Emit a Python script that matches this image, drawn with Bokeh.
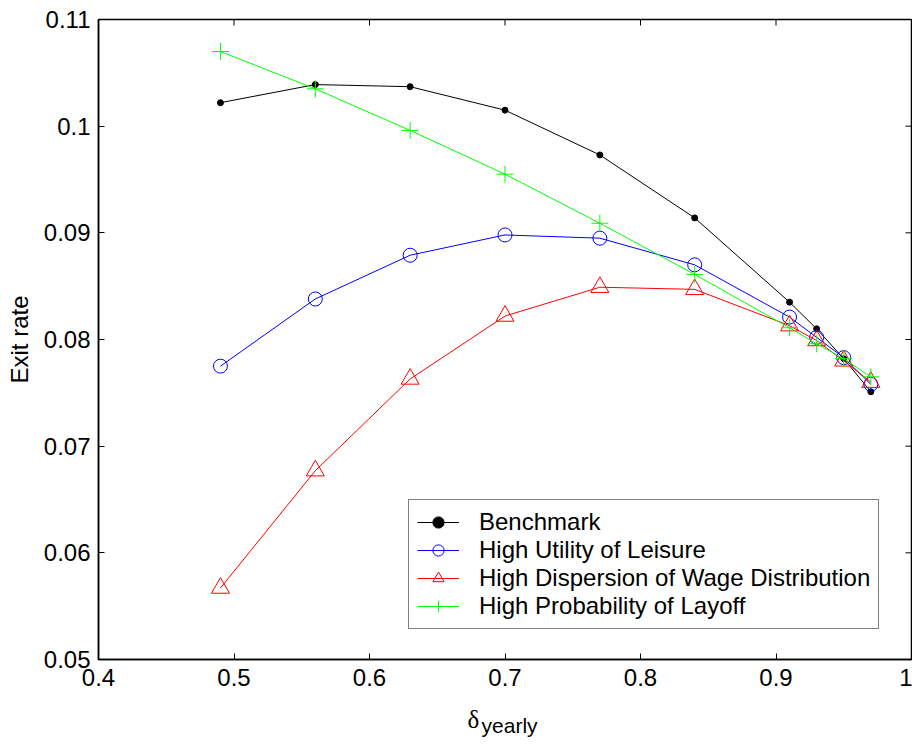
import math
from bokeh.plotting import figure
from bokeh.layouts import column
from bokeh.models import Range1d, FixedTicker, Legend, LegendItem
from bokeh.core.properties import value
from bokeh.embed import file_html
from bokeh.resources import INLINE

# ---- data ----
delta = [0.49, 0.56, 0.63, 0.70, 0.77, 0.84, 0.91, 0.93, 0.95, 0.97]
benchmark = [0.1022, 0.1039, 0.1037, 0.1015, 0.0973, 0.0914, 0.0835, 0.0810, 0.0782, 0.0751]
high_leisure = [0.0775, 0.0838, 0.0879, 0.0898, 0.0895, 0.0870, 0.0821, 0.0802, 0.0783, 0.0758]
high_dispersion = [0.0567, 0.0677, 0.0763, 0.0822, 0.0849, 0.0847, 0.0813, 0.0799, 0.0780, 0.0760]
high_layoff = [0.1070, 0.1035, 0.0996, 0.0955, 0.0909, 0.0861, 0.0811, 0.0796, 0.0782, 0.0765]

series_names = ["Benchmark", "High Utility of Leisure",
                "High Dispersion of Wage Distribution", "High Probability of Layoff"]

x_ticks = [0.4, 0.5, 0.6, 0.7, 0.8, 0.9, 1.0]
x_tick_labels = ["0.4", "0.5", "0.6", "0.7", "0.8", "0.9", "1"]
y_ticks = [0.05, 0.06, 0.07, 0.08, 0.09, 0.10, 0.11]
y_tick_labels = ["0.05", "0.06", "0.07", "0.08", "0.09", "0.1", "0.11"]

FONT = "Liberation Sans"
FS = "24px"

xr = Range1d(0.4, 1.0)
p = figure(width=912, height=700, output_backend="svg", toolbar_location=None,
           x_range=xr, y_range=Range1d(0.05, 0.11),
           min_border_left=98, min_border_right=1, min_border_top=19, min_border_bottom=41)

p.xgrid.grid_line_color = None
p.ygrid.grid_line_color = None
p.outline_line_color = "black"
p.outline_line_width = 1.5
p.background_fill_color = "white"
p.border_fill_color = "white"

def style_axis(ax, ticks, labels):
    ax.ticker = FixedTicker(ticks=ticks)
    ax.major_label_overrides = {t: l for t, l in zip(ticks, labels)}
    ax.major_tick_in = 6
    ax.major_tick_out = 0
    ax.minor_tick_line_color = None
    ax.axis_line_color = "black"
    ax.axis_line_width = 1.5
    ax.major_tick_line_color = "black"
    ax.major_label_text_font = FONT
    ax.major_label_text_color = "black"
    ax.major_label_text_font_size = FS

style_axis(p.xaxis[0], x_ticks, x_tick_labels)
style_axis(p.yaxis[0], y_ticks, y_tick_labels)
p.xaxis[0].major_label_standoff = 9
p.yaxis[0].major_label_standoff = 8

p.yaxis[0].axis_label = "Exit rate"
p.yaxis[0].axis_label_text_font = FONT
p.yaxis[0].axis_label_text_font_size = FS
p.yaxis[0].axis_label_text_font_style = "normal"
p.yaxis[0].axis_label_text_color = "black"
p.yaxis[0].axis_label_standoff = 8

# inward ticks on the top and right edges of the box
p.ray(x=x_ticks, y=[0.11] * len(x_ticks), length=6, length_units="screen",
      angle=-math.pi / 2, line_color="black", line_width=1)
p.ray(x=[1.0] * len(y_ticks), y=y_ticks, length=6, length_units="screen",
      angle=math.pi, line_color="black", line_width=1)

items = []
l1 = p.line(delta, benchmark, line_color="black", line_width=1)
m1 = p.scatter(delta, benchmark, marker="circle", size=6, fill_color="black", line_color="black")
items.append(LegendItem(label=series_names[0], renderers=[l1, m1]))
l2 = p.line(delta, high_leisure, line_color="#0000FF", line_width=1)
m2 = p.scatter(delta, high_leisure, marker="circle", size=14, fill_color=None, line_color="#0000FF")
items.append(LegendItem(label=series_names[1], renderers=[l2, m2]))
l3 = p.line(delta, high_dispersion, line_color="#FF0000", line_width=1)
m3 = p.scatter(delta, high_dispersion, marker="triangle", size=18, fill_color=None, line_color="#FF0000")
items.append(LegendItem(label=series_names[2], renderers=[l3, m3]))
l4 = p.line(delta, high_layoff, line_color="#00FF00", line_width=1)
m4 = p.scatter(delta, high_layoff, marker="cross", size=17, line_color="#00FF00")
items.append(LegendItem(label=series_names[3], renderers=[l4, m4]))

legend = Legend(items=items, location=(310, 30), orientation="vertical",
                label_text_font=FONT, label_text_font_size=FS, label_text_color="black",
                label_height=28, glyph_height=28, glyph_width=42, label_standoff=20,
                spacing=0, padding=8, margin=0,
                border_line_color="black", border_line_width=1.5,
                background_fill_color="white", background_fill_alpha=1)
p.add_layout(legend, "center")

# x axis label strip: delta with subscript "yearly"
p2 = figure(width=912, height=40, output_backend="svg", toolbar_location=None,
            x_range=xr, y_range=Range1d(0, 40), x_axis_type=None, y_axis_type=None,
            min_border_left=98, min_border_right=1, min_border_top=0, min_border_bottom=0)
p2.outline_line_color = None
p2.xgrid.grid_line_color = None
p2.ygrid.grid_line_color = None
p2.text(x=[0.6723], y=[21], text=["δ"], text_font=value("Liberation Serif"),
        text_font_size="25px", text_color="black", text_baseline="alphabetic", text_align="left")
p2.text(x=[0.6827], y=[15], text=["yearly"], text_font=value(FONT),
        text_font_size="21px", text_color="black", text_baseline="alphabetic", text_align="left")

layout = column(p, p2, spacing=0)
open("out.html", "w").write(file_html(layout, INLINE))
